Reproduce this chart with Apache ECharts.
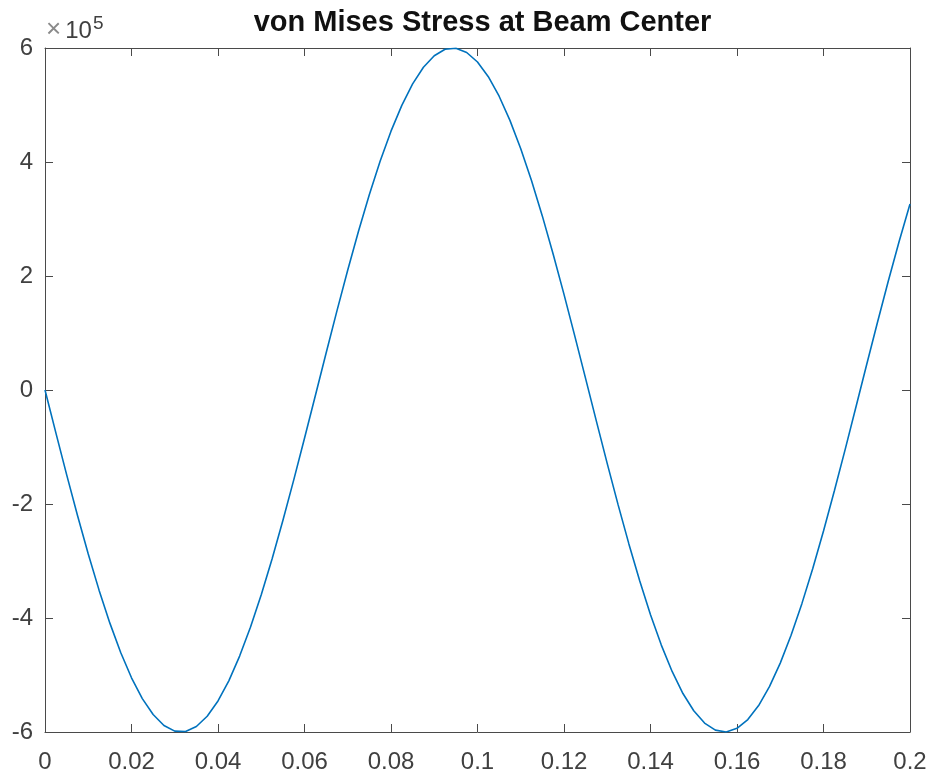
<!DOCTYPE html>
<html>
<head>
<meta charset="utf-8">
<script src="https://cdn.jsdelivr.net/npm/echarts@6/dist/echarts.min.js"></script>
<style>
  html, body { margin: 0; padding: 0; background: #ffffff; }
  #chart { width: 933px; height: 776px; }
</style>
</head>
<body>
<div id="chart"></div>
<script>
// Time samples (s)
const timeSec = [
  0, 0.0025, 0.005, 0.0075, 0.01, 0.0125, 0.015, 0.0175, 0.02, 0.0225,
  0.025, 0.0275, 0.03, 0.0325, 0.035, 0.0375, 0.04, 0.0425, 0.045, 0.0475,
  0.05, 0.0525, 0.055, 0.0575, 0.06, 0.0625, 0.065, 0.0675, 0.07, 0.0725,
  0.075, 0.0775, 0.08, 0.0825, 0.085, 0.0875, 0.09, 0.0925, 0.095, 0.0975,
  0.1, 0.1025, 0.105, 0.1075, 0.11, 0.1125, 0.115, 0.1175, 0.12, 0.1225,
  0.125, 0.1275, 0.13, 0.1325, 0.135, 0.1375, 0.14, 0.1425, 0.145, 0.1475,
  0.15, 0.1525, 0.155, 0.1575, 0.16, 0.1625, 0.165, 0.1675, 0.17, 0.1725,
  0.175, 0.1775, 0.18, 0.1825, 0.185, 0.1875, 0.19, 0.1925, 0.195, 0.1975,
  0.2
];
// von Mises stress at the beam center, in units of 1e5
const stressE5 = [
  0, -0.748, -1.484, -2.198, -2.877, -3.511, -4.090, -4.605, -5.049, -5.414,
  -5.694, -5.885, -5.985, -5.991, -5.904, -5.724, -5.456, -5.102, -4.668, -4.162,
  -3.591, -2.964, -2.290, -1.581, -0.847, -0.100, 0.649, 1.388, 2.105, 2.789,
  3.429, 4.016, 4.541, 4.994, 5.370, 5.662, 5.865, 5.977, 5.996, 5.921,
  5.754, 5.496, 5.154, 4.730, 4.233, 3.670, 3.050, 2.382, 1.677, 0.945,
  0.199, -0.550, -1.291, -2.011, -2.700, -3.347, -3.942, -4.475, -4.938, -5.325,
  -5.628, -5.843, -5.967, -5.999, -5.936, -5.781, -5.537, -5.204, -4.791, -4.303,
  -3.748, -3.135, -2.473, -1.772, -1.046, -0.299, 0.451, 1.193, 1.917, 2.611,
  3.264
];
const xTicks = [0, 0.02, 0.04, 0.06, 0.08, 0.1, 0.12, 0.14, 0.16, 0.18, 0.2];
const yTicks = [-6, -4, -2, 0, 2, 4, 6];
const yScale = 1e5;

const seriesData = timeSec.map((t, i) => [t, stressE5[i] * yScale]);

const axisColor = '#4a4a4a';
const textColor = '#404040';
const fontFamily = '"Liberation Sans", Arial, Helvetica, sans-serif';

const gridLeft = 45;
const gridRight = 23;
const chartWidth = 933;

const xBase = {
  type: 'value',
  min: xTicks[0],
  max: xTicks[xTicks.length - 1],
  interval: 0.02,
  axisLine: { show: true, onZero: false, lineStyle: { color: axisColor, width: 1 } },
  axisTick: { show: true, inside: true, length: 8, lineStyle: { color: axisColor } },
  splitLine: { show: false }
};
const yBase = {
  type: 'value',
  min: yTicks[0] * yScale,
  max: yTicks[yTicks.length - 1] * yScale,
  interval: 2 * yScale,
  axisLine: { show: true, onZero: false, lineStyle: { color: axisColor, width: 1 } },
  axisTick: { show: true, inside: true, length: 8, lineStyle: { color: axisColor } },
  splitLine: { show: false }
};

const chart = echarts.init(document.getElementById('chart'), null, { renderer: 'canvas' });
chart.setOption({
  animation: false,
  backgroundColor: '#ffffff',
  title: {
    text: 'von Mises Stress at Beam Center',
    // centred over the plot area rather than the whole canvas
    left: (gridLeft + (chartWidth - gridRight)) / 2,
    textAlign: 'center',
    top: 3,
    textStyle: { fontFamily, fontWeight: 'bold', fontSize: 29, color: '#111111' }
  },
  grid: { left: gridLeft, right: gridRight, top: 48, bottom: 44, containLabel: false },
  xAxis: [
    Object.assign({}, xBase, {
      position: 'bottom',
      axisLabel: {
        show: true, margin: 18, color: textColor, fontFamily, fontSize: 24,
        formatter: v => String(+v.toFixed(2))
      }
    }),
    Object.assign({}, xBase, { position: 'top', axisLabel: { show: false } })
  ],
  yAxis: [
    Object.assign({}, yBase, {
      position: 'left',
      axisLabel: {
        show: true, margin: 12, color: textColor, fontFamily, fontSize: 24,
        formatter: v => String(Math.round(v / yScale))
      }
    }),
    Object.assign({}, yBase, { position: 'right', axisLabel: { show: false } })
  ],
  graphic: [{
    type: 'text',
    left: 46,
    top: 14,
    style: {
      text: '{m|×}{b|10}{e|5}',
      rich: {
        m: { fontFamily, fontSize: 26, fill: '#8a8a8a', verticalAlign: 'bottom', padding: [0, 4, 0, 0] },
        b: { fontFamily, fontSize: 24, fill: textColor, verticalAlign: 'bottom' },
        e: { fontFamily, fontSize: 19, fill: textColor, verticalAlign: 'top', padding: [0, 0, 10, 1] }
      }
    }
  }],
  series: [{
    type: 'line',
    xAxisIndex: 0,
    yAxisIndex: 0,
    data: seriesData,
    smooth: false,
    showSymbol: false,
    lineStyle: { color: '#0072BD', width: 1.6 },
    clip: true
  }]
});
</script>
</body>
</html>
